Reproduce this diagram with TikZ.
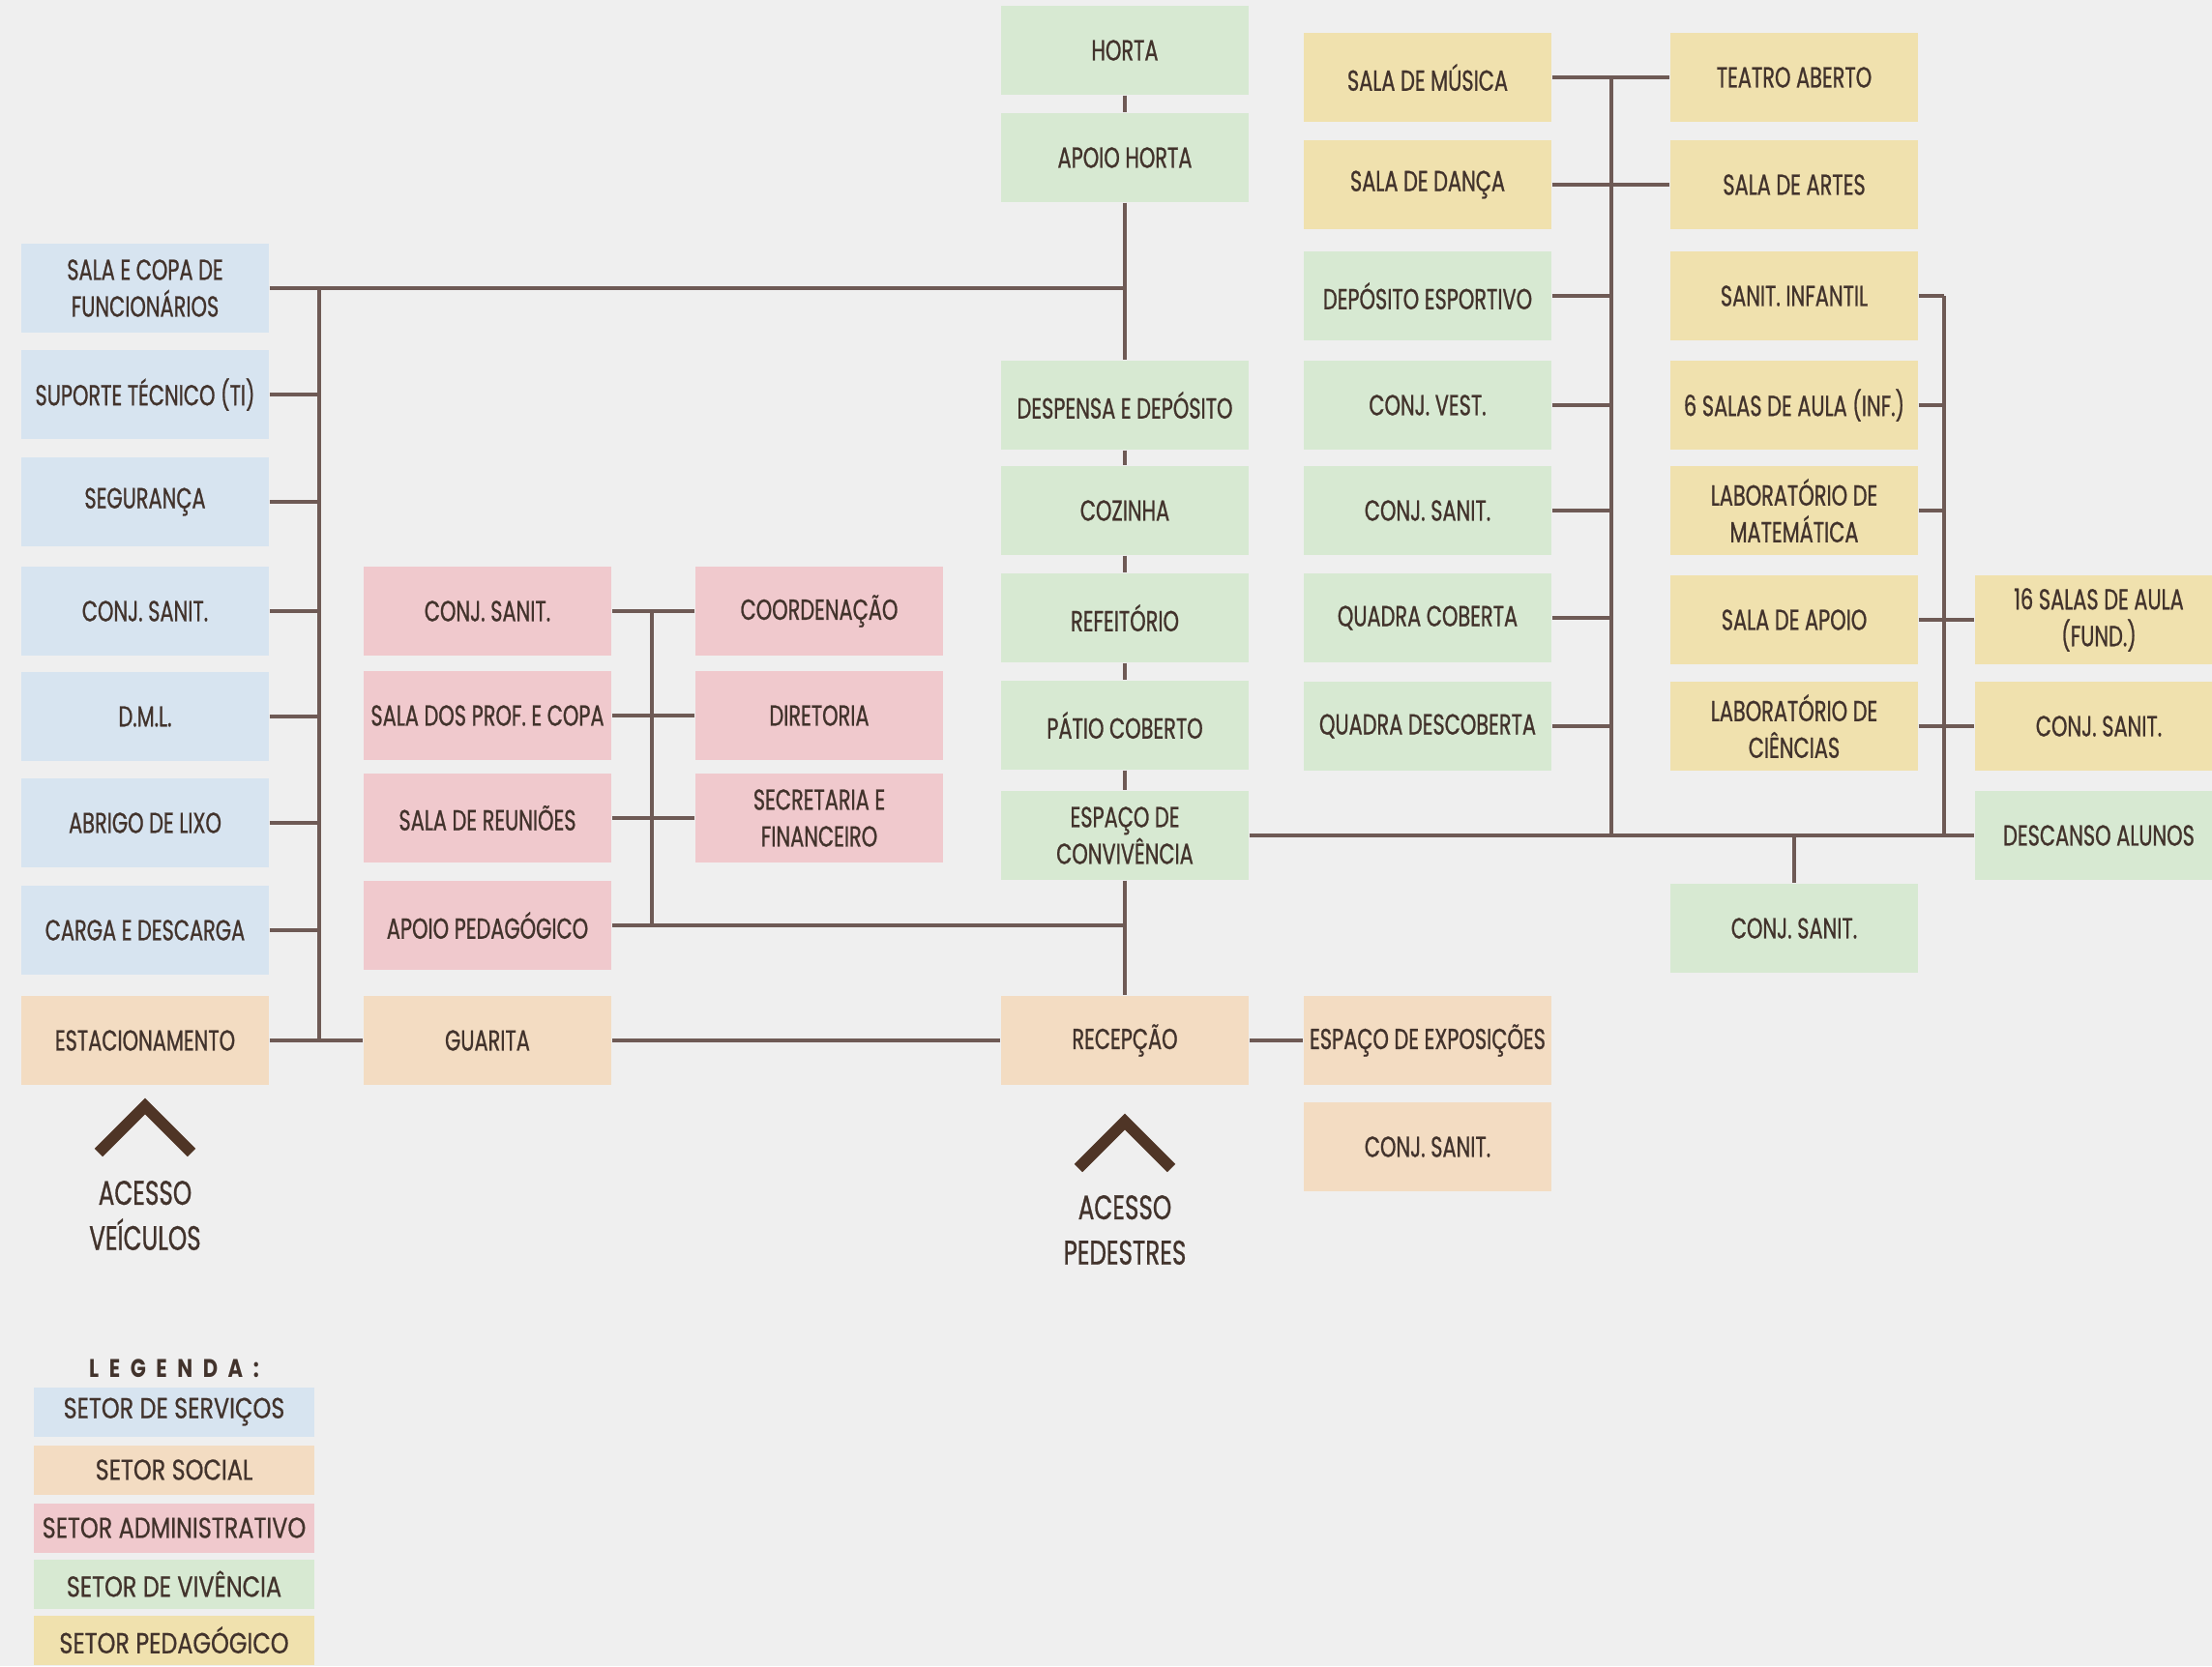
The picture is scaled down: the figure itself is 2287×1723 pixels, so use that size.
\documentclass[tikz,border=0pt]{standalone}
\usepackage{fontspec}
\setmainfont{Poppins}[FakeStretch=0.7,FakeBold=0.8]
\newfontfamily\legfont{Poppins}[FakeStretch=0.8,FakeBold=0.6]
\newfontfamily\titfont{Poppins}[LetterSpace=40,FakeStretch=0.8]
\usetikzlibrary{calc}

\definecolor{cBg}{HTML}{EFEFEF}
\definecolor{cServ}{HTML}{D7E4F0}
\definecolor{cSoc}{HTML}{F3DCC2}
\definecolor{cAdm}{HTML}{F0C9CD}
\definecolor{cViv}{HTML}{D7E9D2}
\definecolor{cPed}{HTML}{F0E1AE}
\definecolor{cLine}{HTML}{6E5A55}
\definecolor{cTxt}{HTML}{42332C}
\definecolor{cChev}{HTML}{4F3526}

\tikzset{
  room/.style={rectangle, minimum width=2.56cm, minimum height=0.92cm, inner sep=0pt,
    align=center, text=cTxt, font=\fontsize{8.5}{10.8}\selectfont},
  serv/.style={room, fill=cServ},
  soc/.style={room, fill=cSoc},
  adm/.style={room, fill=cAdm},
  viv/.style={room, fill=cViv},
  ped/.style={room, fill=cPed},
  link/.style={draw=cLine, line width=1pt},
  chev/.style={draw=cChev, line width=3.4pt},
  acc/.style={align=center, text=cTxt, font=\fontsize{10}{13.3}\selectfont},
  leg/.style={rectangle, minimum width=2.89cm, minimum height=0.51cm, inner sep=0pt,
    text=cTxt, font=\legfont\fontsize{8.5}{10}\selectfont},
  legtitle/.style={text=cTxt, font=\titfont\bfseries\fontsize{7.5}{10}\selectfont}
}

\begin{document}
\begin{tikzpicture}[x=0.01cm, y=-0.01cm]
    \useasboundingbox (0,0) rectangle (2287,1723);
    \fill[cBg] (0,0) rectangle (2287,1723);

    % setor de servicos
    \node[serv] (fun) at (150,298) {SALA E COPA DE\\FUNCIONÁRIOS};
    \node[serv] (ti) at (150,408) {SUPORTE TÉCNICO (TI)};
    \node[serv] (seg) at (150,519) {SEGURANÇA};
    \node[serv] (sanS) at (150,632) {CONJ. SANIT.};
    \node[serv] (dml) at (150,741) {D.M.L.};
    \node[serv] (lixo) at (150,851) {ABRIGO DE LIXO};
    \node[serv] (carga) at (150,962) {CARGA E DESCARGA};
    \node[soc] (estac) at (150,1076) {ESTACIONAMENTO};

    % administracao
    \node[adm] (sanA) at (504,632) {CONJ. SANIT.};
    \node[adm] (prof) at (504,740) {SALA DOS PROF. E COPA};
    \node[adm] (reun) at (504,846) {SALA DE REUNIÕES};
    \node[adm] (apoio) at (504,957) {APOIO PEDAGÓGICO};
    \node[soc] (guar) at (504,1076) {GUARITA};
    \node[adm] (coord) at (847,632) {COORDENAÇÃO};
    \node[adm] (dir) at (847,740) {DIRETORIA};
    \node[adm] (secr) at (847,846) {SECRETARIA E\\FINANCEIRO};

    % eixo central
    \node[viv] (horta) at (1163,52) {HORTA};
    \node[viv] (ahorta) at (1163,163) {APOIO HORTA};
    \node[viv] (desp) at (1163,419) {DESPENSA E DEPÓSITO};
    \node[viv] (coz) at (1163,528) {COZINHA};
    \node[viv] (refe) at (1163,639) {REFEITÓRIO};
    \node[viv] (patio) at (1163,750) {PÁTIO COBERTO};
    \node[viv] (conv) at (1163,864) {ESPAÇO DE\\CONVIVÊNCIA};
    \node[soc] (recep) at (1163,1076) {RECEPÇÃO};

    % esportes e artes
    \node[ped] (mus) at (1476,80) {SALA DE MÚSICA};
    \node[ped] (danca) at (1476,191) {SALA DE DANÇA};
    \node[viv] (desport) at (1476,306) {DEPÓSITO ESPORTIVO};
    \node[viv] (vest) at (1476,419) {CONJ. VEST.};
    \node[viv] (sanV) at (1476,528) {CONJ. SANIT.};
    \node[viv] (qcob) at (1476,639) {QUADRA COBERTA};
    \node[viv] (qdesc) at (1476,751) {QUADRA DESCOBERTA};
    \node[soc] (expo) at (1476,1076) {ESPAÇO DE EXPOSIÇÕES};
    \node[soc] (sanE) at (1476,1186) {CONJ. SANIT.};

    % salas de aula
    \node[ped] (teatro) at (1855,80) {TEATRO ABERTO};
    \node[ped] (artes) at (1855,191) {SALA DE ARTES};
    \node[ped] (sinf) at (1855,306) {SANIT. INFANTIL};
    \node[ped] (aulinf) at (1855,419) {6 SALAS DE AULA (INF.)};
    \node[ped] (labmat) at (1855,528) {LABORATÓRIO DE\\MATEMÁTICA};
    \node[ped] (sapoio) at (1855,641) {SALA DE APOIO};
    \node[ped] (labcie) at (1855,751) {LABORATÓRIO DE\\CIÊNCIAS};
    \node[viv] (sanC) at (1855,960) {CONJ. SANIT.};
    \node[ped] (aulfund) at (2170,641) {16 SALAS DE AULA\\(FUND.)};
    \node[ped] (sanF) at (2170,751) {CONJ. SANIT.};
    \node[viv] (desc) at (2170,864) {DESCANSO ALUNOS};

    \coordinate (busL) at (330,0);
    \coordinate (busA) at (674,0);
    \coordinate (busP) at (1666,0);
    \coordinate (busI) at (2010,0);

    % ligacoes
    \draw[link] (fun.east) -- (fun.east -| ahorta.south);
    \draw[link] (fun.east -| busL) -- (estac.east -| busL);
    \draw[link] (ti.east) -- (ti.east -| busL);
    \draw[link] (seg.east) -- (seg.east -| busL);
    \draw[link] (sanS.east) -- (sanS.east -| busL);
    \draw[link] (dml.east) -- (dml.east -| busL);
    \draw[link] (lixo.east) -- (lixo.east -| busL);
    \draw[link] (carga.east) -- (carga.east -| busL);
    \draw[link] (estac.east) -- (guar.west);
    \draw[link] (guar.east) -- (recep.west);
    \draw[link] (recep.east) -- (expo.west);

    \draw[link] (sanA.east) -- (coord.west);
    \draw[link] (prof.east) -- (dir.west);
    \draw[link] (reun.east) -- (secr.west);
    \draw[link] (apoio.east) -- (apoio.east -| conv.south);
    \draw[link] (sanA.east -| busA) -- (apoio.east -| busA);

    \draw[link] (horta.south) -- (ahorta.north);
    \draw[link] (ahorta.south) -- (desp.north);
    \draw[link] (desp.south) -- (coz.north);
    \draw[link] (coz.south) -- (refe.north);
    \draw[link] (refe.south) -- (patio.north);
    \draw[link] (patio.south) -- (conv.north);
    \draw[link] (conv.south) -- (recep.north);

    \draw[link] (mus.east) -- (teatro.west);
    \draw[link] (danca.east) -- (artes.west);
    \draw[link] (mus.east -| busP) -- (conv.east -| busP);
    \draw[link] (desport.east) -- (desport.east -| busP);
    \draw[link] (vest.east) -- (vest.east -| busP);
    \draw[link] (sanV.east) -- (sanV.east -| busP);
    \draw[link] (qcob.east) -- (qcob.east -| busP);
    \draw[link] (qdesc.east) -- (qdesc.east -| busP);
    \draw[link] (conv.east) -- (desc.west);

    \draw[link] (sinf.east -| busI) -- (conv.east -| busI);
    \draw[link] (sinf.east) -- (sinf.east -| busI);
    \draw[link] (aulinf.east) -- (aulinf.east -| busI);
    \draw[link] (labmat.east) -- (labmat.east -| busI);
    \draw[link] (sapoio.east) -- (aulfund.west);
    \draw[link] (labcie.east) -- (sanF.west);
    \draw[link] (conv.east -| sanC.north) -- (sanC.north);

    % acessos
    \draw[chev] (102,1192) -- (150,1144) -- (198,1192);
    \node[acc] (accv) at (150,1257) {ACESSO\\VEÍCULOS};
    \draw[chev] (1115,1208) -- (1163,1160) -- (1211,1208);
    \node[acc] (accp) at (1163,1272) {ACESSO\\PEDESTRES};

    % legenda
    \node[legtitle] (legt) at (180,1415) {LEGENDA:};
    \node[leg, fill=cServ] (lserv) at (180,1460) {SETOR DE SERVIÇOS};
    \node[leg, fill=cSoc] (lsoc) at (180,1520) {SETOR SOCIAL};
    \node[leg, fill=cAdm] (ladm) at (180,1580) {SETOR ADMINISTRATIVO};
    \node[leg, fill=cViv] (lviv) at (180,1638) {SETOR DE VIVÊNCIA};
    \node[leg, fill=cPed] (lped) at (180,1696) {SETOR PEDAGÓGICO};
\end{tikzpicture}
\end{document}
